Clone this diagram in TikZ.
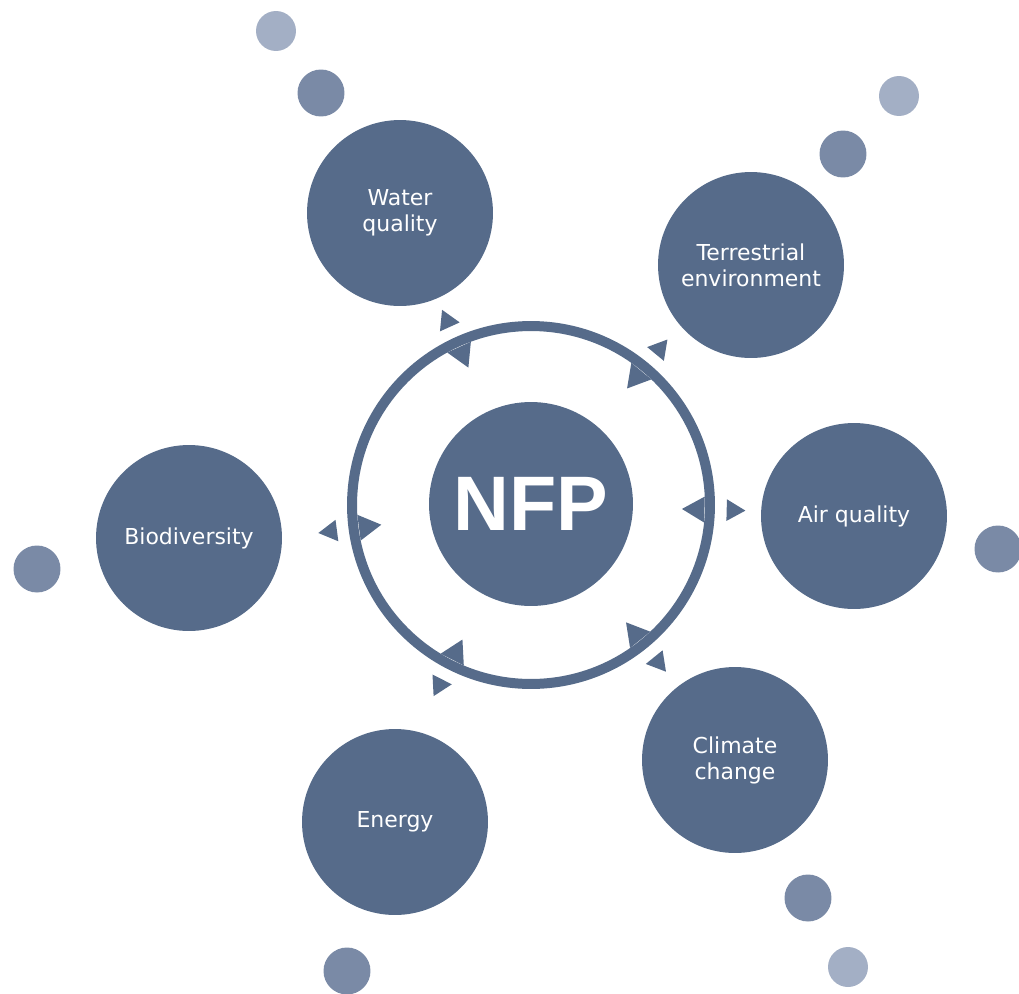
\documentclass[tikz,border=0pt]{standalone}
\usepackage{fontspec}
\setmainfont{DejaVu Sans}
\newfontfamily\nfpfont{Liberation Sans}
\usepackage{xcolor}
\usepackage{tikz}
\usetikzlibrary{calc,shapes.geometric}

\definecolor{slate}{HTML}{566B8A}
\definecolor{dotdark}{HTML}{7A8AA6}
\definecolor{dotlight}{HTML}{A3AFC5}

\begin{document}
\begin{tikzpicture}[x=0.02cm,y=0.02cm,
    topic/.style={circle, fill=slate, minimum size=3.72cm, inner sep=0pt,
      text=white, align=center, font=\fontsize{12.5}{14.8}\selectfont},
    bigdot/.style={circle, fill=dotdark, minimum size=0.94cm, inner sep=0pt},
    smalldot/.style={circle, fill=dotlight, minimum size=0.8cm, inner sep=0pt},
    ringtri/.style={regular polygon, regular polygon sides=3, fill=slate,
      minimum size=0.6cm, inner sep=0pt},
    outtri/.style={regular polygon, regular polygon sides=3, fill=slate,
      minimum size=0.5cm, inner sep=0pt}]
    \useasboundingbox (0,0) rectangle (1019,-994);

    \node [circle, fill=slate, minimum size=4.08cm, inner sep=0pt, text=white,
      font=\nfpfont\bfseries\fontsize{44}{44}\selectfont] (nfp) at (531,-504) {NFP};
    \node [circle, draw=slate, line width=0.2cm, minimum size=7.16cm] (ring) at (531,-505) {};

    \node [topic] (water) at (400,-213) {Water\\quality};
    \node [topic] (terr) at (751,-265) {Terrestrial\\environment};
    \node [topic] (air) at (854,-516) {Air quality};
    \node [topic] (climate) at (735,-760) {Climate\\change};
    \node [topic] (energy) at (395,-822) {Energy};
    \node [topic] (bio) at (189,-538) {Biodiversity};

    % arrows on the ring and beside it
    \foreach \a [count=\i] in {114.5,50.5,-1.5,-51,-117,187.5} {
      \node [ringtri, rotate=\a+90] (rt\i) at ($(ring.center)+(\a:166)$) {};
      \node [outtri, rotate=\a-90] (ot\i) at ($(ring.center)+(\a:202)$) {};
    }

    \node [smalldot] (d1) at (276,-31) {};
    \node [bigdot] (d2) at (321,-93) {};
    \node [smalldot] (d3) at (899,-96) {};
    \node [bigdot] (d4) at (843,-154) {};
    \node [bigdot] (d5) at (998,-549) {};
    \node [bigdot] (d6) at (37,-569) {};
    \node [bigdot] (d7) at (808,-898) {};
    \node [smalldot] (d8) at (848,-967) {};
    \node [bigdot] (d9) at (347,-971) {};
\end{tikzpicture}
\end{document}
